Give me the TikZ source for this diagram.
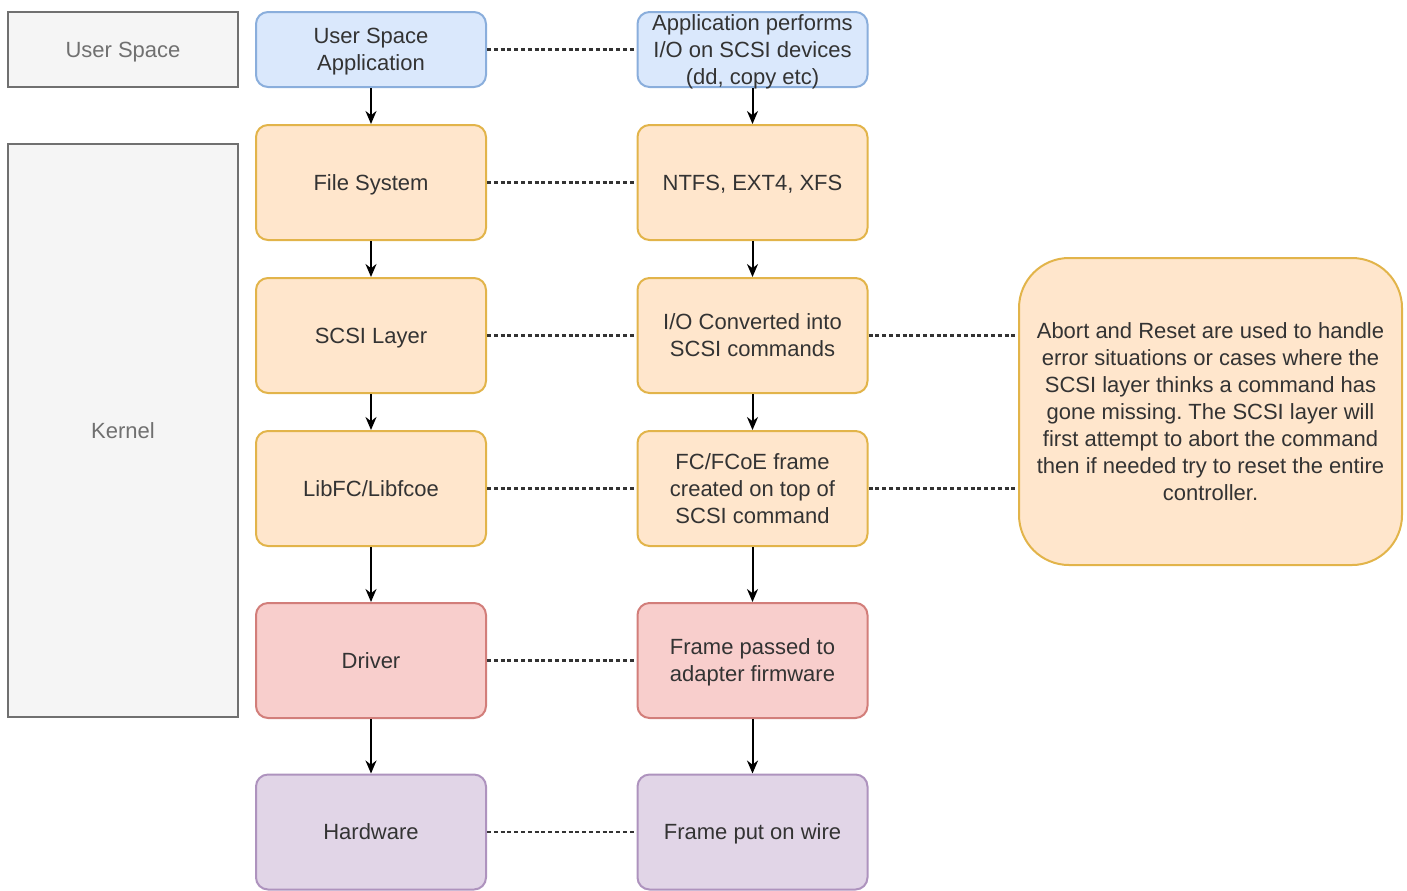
\documentclass[tikz,border=0pt]{standalone}
\usepackage{fontspec}
\setmainfont{Liberation Sans}
\usepackage{xcolor}
\usetikzlibrary{arrows.meta}

\definecolor{greyfill}{HTML}{F5F5F5}
\definecolor{greyline}{HTML}{707070}
\definecolor{bluefill}{HTML}{DAE8FC}
\definecolor{blueline}{HTML}{8AAEDC}
\definecolor{orangefill}{HTML}{FFE6CC}
\definecolor{orangeline}{HTML}{E2B44A}
\definecolor{redfill}{HTML}{F8CECC}
\definecolor{redline}{HTML}{D27E7A}
\definecolor{purplefill}{HTML}{E1D5E7}
\definecolor{purpleline}{HTML}{AE93BE}
\definecolor{txt}{HTML}{333333}

\frenchspacing
\begin{document}
\begin{tikzpicture}[x=0.5pt, y=-0.5pt, line width=1pt, >={Stealth[length=6.5pt,width=5.5pt]},
    lay/.style={draw=greyline, fill=greyfill, text=greyline, minimum width=115pt, align=center, text depth=0pt, font=\fontsize{11}{13.5}\selectfont},
    box/.style={draw, rounded corners=6pt, minimum width=115pt, minimum height=57.5pt, align=center, text=txt, inner sep=1pt, text depth=0pt, font=\fontsize{11}{13.5}\selectfont},
    usr/.style={box, fill=bluefill, draw=blueline, minimum height=37.5pt},
    krn/.style={box, fill=orangefill, draw=orangeline},
    drv/.style={box, fill=redfill, draw=redline},
    hwr/.style={box, fill=purplefill, draw=purpleline},
    link/.style={draw=txt, line width=1.2pt, dash pattern=on 2pt off 1.4pt}]
    \useasboundingbox (0,0) rectangle (1407,890);
    % layers
    \node[lay, minimum height=37.5pt] (uspace) at (123,49.5) {User Space};
    \node[lay, minimum height=286.5pt] (kernel) at (123,430.5) {Kernel};
    % stack
    \node[usr] (user) at (371,49.5) {User Space\\Application};
    \node[krn] (fs) at (371,182.5) {File System};
    \node[krn] (scsi) at (371,335.5) {SCSI Layer};
    \node[krn] (libfc) at (371,488.5) {LibFC/Libfcoe};
    \node[drv] (driver) at (371,660.5) {Driver};
    \node[hwr] (hw) at (371,832) {Hardware};
    % what happens at each level
    \node[usr] (appio) at (752.5,49.5) {Application performs\\I/O on SCSI devices\\(dd, copy etc)};
    \node[krn] (ntfs) at (752.5,182.5) {NTFS, EXT4, XFS};
    \node[krn] (conv) at (752.5,335.5) {I/O Converted into\\SCSI commands};
    \node[krn] (frame) at (752.5,488.5) {FC/FCoE frame\\created on top of\\SCSI command};
    \node[drv] (pass) at (752.5,660.5) {Frame passed to\\adapter firmware};
    \node[hwr] (wire) at (752.5,832) {Frame put on wire};
    \node[krn, rounded corners=25pt, minimum width=191.5pt, minimum height=153.5pt] (note) at (1210.5,411.5)
        {Abort and Reset are used to handle\\error situations or cases where the\\SCSI layer thinks a command has\\gone missing. The SCSI layer will\\first attempt to abort the command\\then if needed try to reset the entire\\controller.};
    % arrows
    \draw[->] (user) -- (fs);
    \draw[->] (fs) -- (scsi);
    \draw[->] (scsi) -- (libfc);
    \draw[->] (libfc) -- (driver);
    \draw[->] (driver) -- (hw);
    \draw[->] (appio) -- (ntfs);
    \draw[->] (ntfs) -- (conv);
    \draw[->] (conv) -- (frame);
    \draw[->] (frame) -- (pass);
    \draw[->] (pass) -- (wire);
    % dotted links
    \draw[link] (user) -- (appio);
    \draw[link] (fs) -- (ntfs);
    \draw[link] (scsi) -- (conv);
    \draw[link] (libfc) -- (frame);
    \draw[link] (driver) -- (pass);
    \draw[link] (hw) -- (wire);
    \draw[link] (conv.east) -- (note.west |- conv.east);
    \draw[link] (frame.east) -- (note.west |- frame.east);
\end{tikzpicture}
\end{document}
